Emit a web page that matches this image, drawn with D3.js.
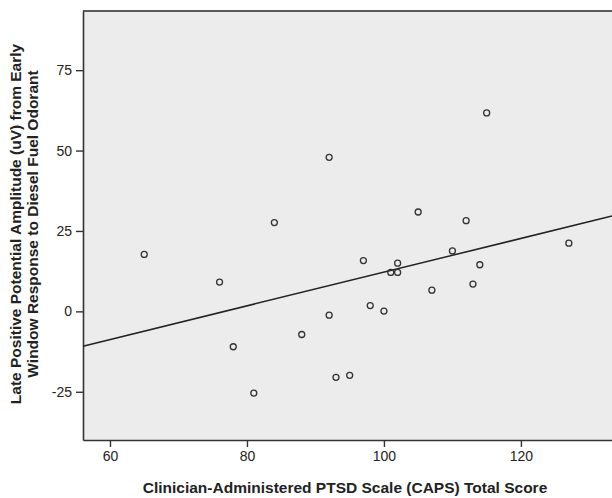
<!DOCTYPE html>
<html>
<head>
<meta charset="utf-8">
<script src="https://cdn.jsdelivr.net/npm/d3@7"></script>
<style>
  body { margin: 0; background: #fff; }
  text { font-family: "Liberation Sans", Arial, sans-serif; fill: #222; }
</style>
</head>
<body>
<svg width="612" height="498"></svg>
<script>
// CAPS total score vs late positive potential amplitude
var caps = [65, 76, 78, 81, 84, 88, 92, 92, 93, 95, 97, 98, 100, 101, 102, 102, 105, 107, 110, 112, 113, 114, 115, 127];
var lpp  = [17.7, 9.1, -11.0, -25.4, 27.6, -7.2, 47.9, -1.2, -20.5, -19.9, 15.8, 1.8, 0.1, 12.1, 15.0, 12.1, 30.9, 6.6, 18.8, 28.2, 8.5, 14.5, 61.7, 21.2];

// fit line
var fitSlope = 0.524,
    fitIntercept = -40.2;

var xTicks = [60, 80, 100, 120];
var yTicks = [-25, 0, 25, 50, 75];

var svg = d3.select("svg");

// plot box (note: "top" is taken by window.top, so use other names)
var plotLeft = 83, plotRight = 612, plotTop = 11, plotBottom = 440;

var x = d3.scaleLinear().domain([56.06, 133.3]).range([plotLeft, plotRight]);
var y = d3.scaleLinear().domain([-40, 93.4]).range([plotBottom, plotTop]);

// plain hyphen for negatives, like the original
var plain = function(d) { return String(d); };

// plot background
svg.append("rect")
    .attr("x", plotLeft).attr("y", plotTop)
    .attr("width", plotRight - plotLeft).attr("height", plotBottom - plotTop)
    .attr("fill", "#ececec");

// top frame line
svg.append("line")
    .attr("x1", plotLeft).attr("x2", plotRight)
    .attr("y1", plotTop).attr("y2", plotTop)
    .attr("stroke", "#5a5a5a").attr("stroke-width", 2);

var xAxis = svg.append("g")
    .attr("transform", "translate(0," + plotBottom + ")")
    .call(d3.axisBottom(x).tickValues(xTicks).tickFormat(plain)
      .tickSize(7).tickPadding(4).tickSizeOuter(0));

var yAxis = svg.append("g")
    .attr("transform", "translate(" + plotLeft + ",0)")
    .call(d3.axisLeft(y).tickValues(yTicks).tickFormat(plain)
      .tickSize(7).tickPadding(4).tickSizeOuter(0));

[xAxis, yAxis].forEach(function(a) {
  a.select(".domain").attr("stroke", "#333").attr("stroke-width", 1.6);
  a.selectAll(".tick line").attr("stroke", "#333").attr("stroke-width", 1.4);
  a.selectAll(".tick text")
      .attr("fill", "#222")
      .style("font-family", "'Liberation Sans', Arial, sans-serif")
      .style("font-size", "14px");
});

// regression line
svg.append("line")
    .attr("x1", x(56.06)).attr("y1", y(fitIntercept + fitSlope * 56.06))
    .attr("x2", x(133.3)).attr("y2", y(fitIntercept + fitSlope * 133.3))
    .attr("stroke", "#222").attr("stroke-width", 1.5);

// points
svg.append("g")
  .selectAll("circle")
  .data(caps)
  .enter().append("circle")
    .attr("cx", function(d) { return x(d); })
    .attr("cy", function(d, i) { return y(lpp[i]); })
    .attr("r", 3)
    .attr("fill", "none")
    .attr("stroke", "#333")
    .attr("stroke-width", 1.3);

// axis titles
svg.append("text")
    .attr("x", 345).attr("y", 493)
    .attr("text-anchor", "middle")
    .style("font-size", "15.5px").style("font-weight", "bold")
    .text("Clinician-Administered PTSD Scale (CAPS) Total Score");

var yt = svg.append("text")
    .attr("transform", "translate(21,224) rotate(-90)")
    .attr("text-anchor", "middle")
    .style("font-size", "15.5px").style("font-weight", "bold");
yt.append("tspan").attr("x", 0).attr("y", 0)
    .text("Late Positive Potential Amplitude (uV) from Early");
yt.append("tspan").attr("x", 0).attr("y", 16.5)
    .text("Window Response to Diesel Fuel Odorant");
</script>
</body>
</html>
